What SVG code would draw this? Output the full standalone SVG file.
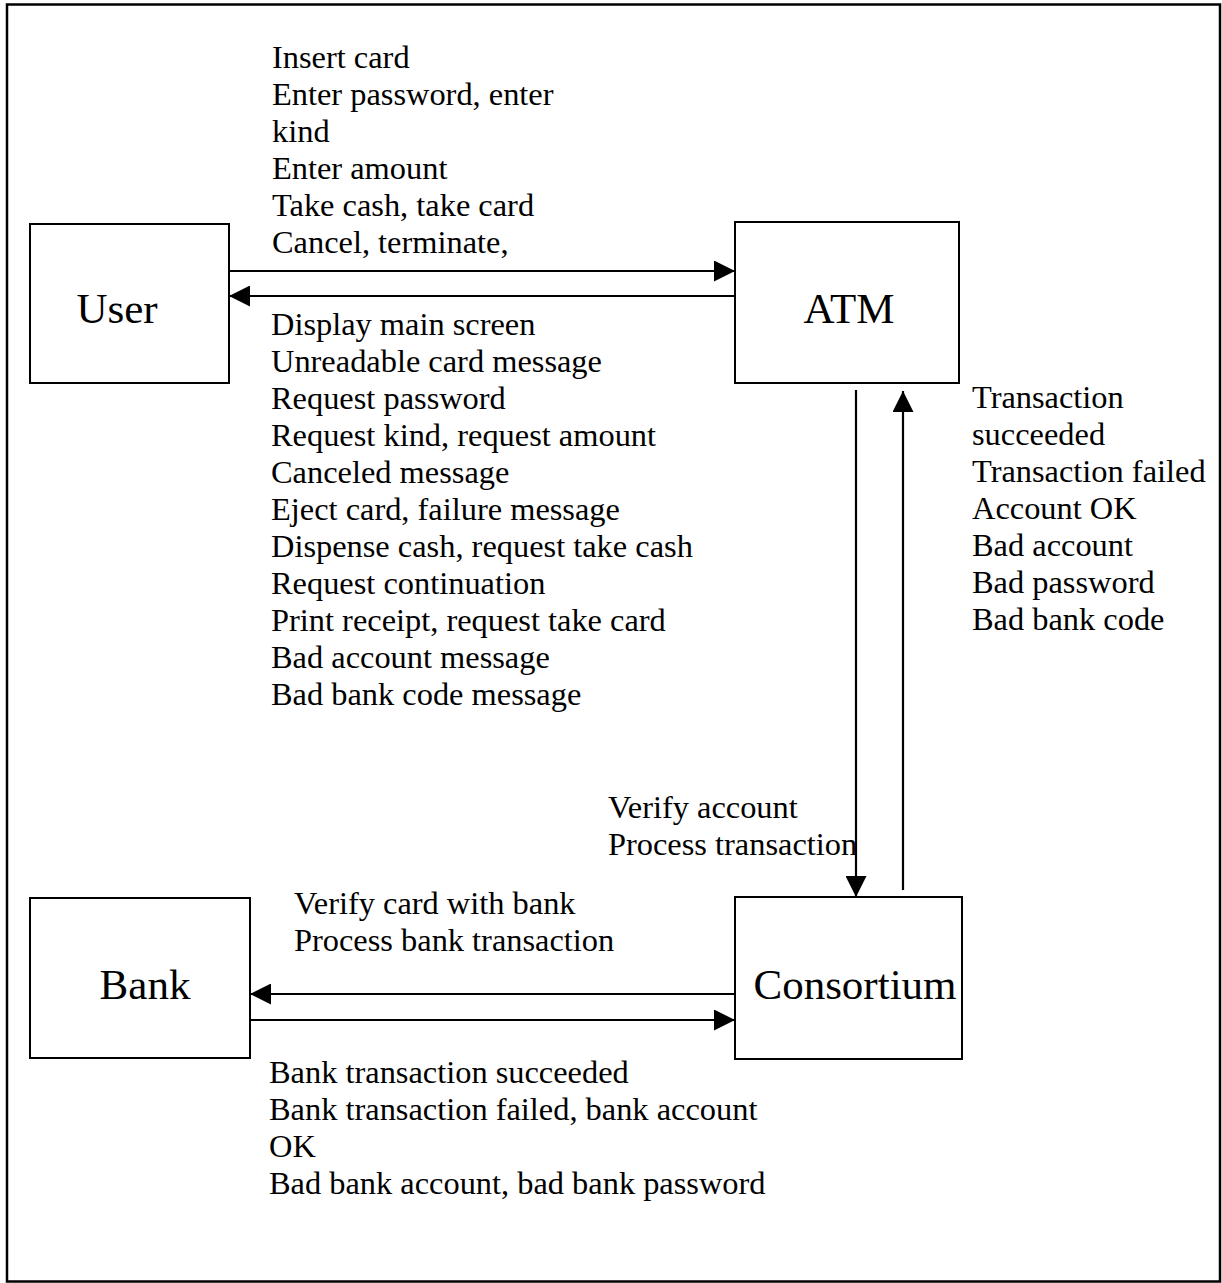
<svg xmlns="http://www.w3.org/2000/svg" width="1222" height="1283" viewBox="0 0 1222 1283">
  <style>
    .box { fill: #fff; stroke: #000; stroke-width: 2; }
    .frame { fill: none; stroke: #000; stroke-width: 2.5; }
    .link { stroke: #000; stroke-width: 2.2; fill: none; }
    .name { font-family: "Liberation Serif", "Times New Roman", serif; font-size: 43px; fill: #000; text-anchor: middle; }
    .msg { font-family: "Liberation Serif", "Times New Roman", serif; font-size: 32.4px; fill: #000; }
  </style>
  <defs>
    <marker id="head" viewBox="0 0 21 21" refX="21" refY="10.5" markerWidth="21" markerHeight="21" markerUnits="userSpaceOnUse" orient="auto">
      <path d="M0,0 L21,10.5 L0,21 Z" fill="#000"/>
    </marker>
  </defs>

  <rect width="1222" height="1283" fill="#fff"/>
  <rect class="frame" x="7" y="4.5" width="1213" height="1277"/>

  <g id="user">
    <rect class="box" x="30" y="224" width="199" height="159"/>
    <text class="name" x="117" y="323">User</text>
  </g>
  <g id="atm">
    <rect class="box" x="735" y="222" width="224" height="161"/>
    <text class="name" x="849" y="323">ATM</text>
  </g>
  <g id="bank">
    <rect class="box" x="30" y="898" width="220" height="160"/>
    <text class="name" x="145" y="999">Bank</text>
  </g>
  <g id="consortium">
    <rect class="box" x="735" y="897" width="227" height="162"/>
    <text class="name" x="855" y="999">Consortium</text>
  </g>

  <g id="connectors">
    <line class="link" x1="229" y1="271" x2="735" y2="271" marker-end="url(#head)"/>
    <line class="link" x1="735" y1="296" x2="229" y2="296" marker-end="url(#head)"/>
    <line class="link" x1="856" y1="390" x2="856" y2="897" marker-end="url(#head)"/>
    <line class="link" x1="903" y1="890" x2="903" y2="391" marker-end="url(#head)"/>
    <line class="link" x1="735" y1="994" x2="250" y2="994" marker-end="url(#head)"/>
    <line class="link" x1="251" y1="1020" x2="735" y2="1020" marker-end="url(#head)"/>
  </g>

  <g id="labels" class="msg">
    <text x="272" y="68">Insert card</text>
    <text x="272" y="105">Enter password, enter</text>
    <text x="272" y="142">kind</text>
    <text x="272" y="179">Enter amount</text>
    <text x="272" y="216">Take cash, take card</text>
    <text x="272" y="253">Cancel, terminate,</text>

    <text x="271" y="335">Display main screen</text>
    <text x="271" y="372">Unreadable card message</text>
    <text x="271" y="409">Request password</text>
    <text x="271" y="446">Request kind, request amount</text>
    <text x="271" y="483">Canceled message</text>
    <text x="271" y="520">Eject card, failure message</text>
    <text x="271" y="557">Dispense cash, request take cash</text>
    <text x="271" y="594">Request continuation</text>
    <text x="271" y="631">Print receipt, request take card</text>
    <text x="271" y="668">Bad account message</text>
    <text x="271" y="705">Bad bank code message</text>

    <text x="972" y="408">Transaction</text>
    <text x="972" y="445">succeeded</text>
    <text x="972" y="482">Transaction failed</text>
    <text x="972" y="519">Account OK</text>
    <text x="972" y="556">Bad account</text>
    <text x="972" y="593">Bad password</text>
    <text x="972" y="630">Bad bank code</text>

    <text x="608" y="818">Verify account</text>
    <text x="608" y="855">Process transaction</text>

    <text x="294" y="914">Verify card with bank</text>
    <text x="294" y="951">Process bank transaction</text>

    <text x="269" y="1083">Bank transaction succeeded</text>
    <text x="269" y="1120">Bank transaction failed, bank account</text>
    <text x="269" y="1157">OK</text>
    <text x="269" y="1194">Bad bank account, bad bank password</text>
  </g>
</svg>
